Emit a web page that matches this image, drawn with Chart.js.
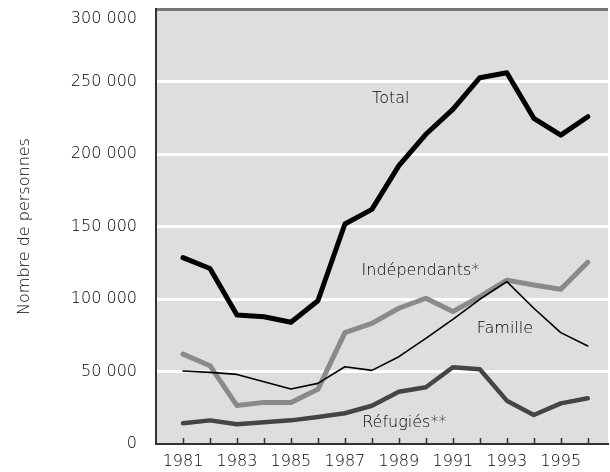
<!DOCTYPE html>
<html>
<head>
<meta charset="utf-8">
<script src="https://cdn.jsdelivr.net/npm/chart.js@4"></script>
<style>
html,body{margin:0;padding:0;background:#fff;}
#wrap{width:610px;height:472px;}
</style>
</head>
<body>
<div id="wrap"><canvas id="c" width="610" height="472"></canvas></div>
<script>
const years = [1981,1982,1983,1984,1985,1986,1987,1988,1989,1990,1991,1992,1993,1994,1995,1996];
const total = [128500,121000,89000,87800,84000,98800,151700,161800,192000,213600,230800,252600,256000,224600,213000,225700];
const independants = [62000,54000,26500,28700,28700,37700,76800,83200,93600,100500,91300,101600,113000,109700,106700,125300];
const famille = [50300,49400,48000,43000,37900,41800,53300,50800,60200,72900,86000,99800,112000,93600,76800,67600];
const refugies = [14300,16300,13600,15000,16300,18600,21200,26400,36000,39100,52900,51500,29900,20000,28000,31500];

const seriesNames = ['Total','Indépendants*','Famille','Réfugiés**'];
const labelYears = [1988.7,1989.8,1992.93,1989.2];
const labelValues = [238000,119300,79300,14700];
const yTitle = 'Nombre de personnes';

const FONT = 'DejaVu Sans';
const WEIGHT = '200';
const TXT = '#000';

function pts(vals){ return years.map((y,i)=>({x:y,y:vals[i]})); }

const bgPlugin = {
  id:'bg',
  beforeDraw(chart){
    const {ctx, chartArea:a} = chart;
    ctx.save();
    ctx.fillStyle = '#dedede';
    ctx.fillRect(a.left, a.top, a.right-a.left, a.bottom-a.top);
    ctx.restore();
  }
};

const tickPlugin = {
  id:'ticksIn',
  afterDatasetsDraw(chart){
    const {ctx, chartArea:a, scales} = chart;
    ctx.save();
    ctx.strokeStyle = '#333';
    ctx.lineWidth = 1.5;
    years.forEach(y=>{
      const x = Math.round(scales.x.getPixelForValue(y))+0.5;
      ctx.beginPath();
      ctx.moveTo(x, a.bottom);
      ctx.lineTo(x, a.bottom-6);
      ctx.stroke();
    });
    ctx.font = WEIGHT+' 16px "'+FONT+'"';
    ctx.fillStyle = TXT;
    ctx.textAlign = 'center';
    ctx.textBaseline = 'middle';
    seriesNames.forEach((n,i)=>{
      ctx.fillText(n, scales.x.getPixelForValue(labelYears[i]), scales.y.getPixelForValue(labelValues[i]));
    });
    ctx.restore();
  }
};

function fmt(v){ return v===0 ? '0' : String(v).replace(/\B(?=(\d{3})+(?!\d))/g,' '); }

new Chart(document.getElementById('c'), {
  type:'line',
  data:{
    datasets:[
      {label:seriesNames[0], data:pts(total), borderColor:'#000', borderWidth:5},
      {label:seriesNames[2], data:pts(famille), borderColor:'#000', borderWidth:1.6},
      {label:seriesNames[1], data:pts(independants), borderColor:'#8a8a8a', borderWidth:5},
      {label:seriesNames[3], data:pts(refugies), borderColor:'#454545', borderWidth:4.5}
    ]
  },
  options:{
    responsive:false,
    animation:false,
    devicePixelRatio:1,
    layout:{padding:{top:9,right:2,left:0,bottom:0}},
    elements:{
      point:{radius:0},
      line:{tension:0, fill:false, borderCapStyle:'round', borderJoinStyle:'round'}
    },
    plugins:{legend:{display:false}, tooltip:{enabled:false}},
    scales:{
      x:{
        type:'linear',
        min:1980, max:1996.75,
        afterBuildTicks(s){ s.ticks = years.map(v=>({value:v})); },
        afterFit(s){ s.height = 28; s.paddingLeft = 0; s.paddingRight = 0; },
        grid:{display:false, drawTicks:false},
        border:{display:true, color:'#333', width:2},
        ticks:{
          autoSkip:false, maxRotation:0, padding:8,
          color:TXT, font:{family:FONT, size:16, weight:WEIGHT},
          callback(v){ return (v%2===1 && v<=1995) ? String(v) : ''; }
        }
      },
      y:{
        min:0, max:300000,
        afterFit(s){ s.width = 156; s.paddingTop = 0; s.paddingBottom = 0; },
        grid:{
          drawTicks:false,
          color(c){ return c.tick && c.tick.value===300000 ? '#777' : '#fff'; },
          lineWidth(c){ return c.tick && c.tick.value===0 ? 0 : 3; }
        },
        border:{display:true, color:'#333', width:2},
        ticks:{
          stepSize:50000, padding:19,
          color:TXT, font:{family:FONT, size:16, weight:WEIGHT},
          callback(v){ return v===300000 ? ['', fmt(v)] : fmt(v); }
        },
        title:{display:true, text:yTitle, color:TXT, font:{family:FONT, size:16, weight:WEIGHT}, padding:{top:15,bottom:0}}
      }
    }
  },
  plugins:[bgPlugin, tickPlugin]
});
</script>
</body>
</html>
